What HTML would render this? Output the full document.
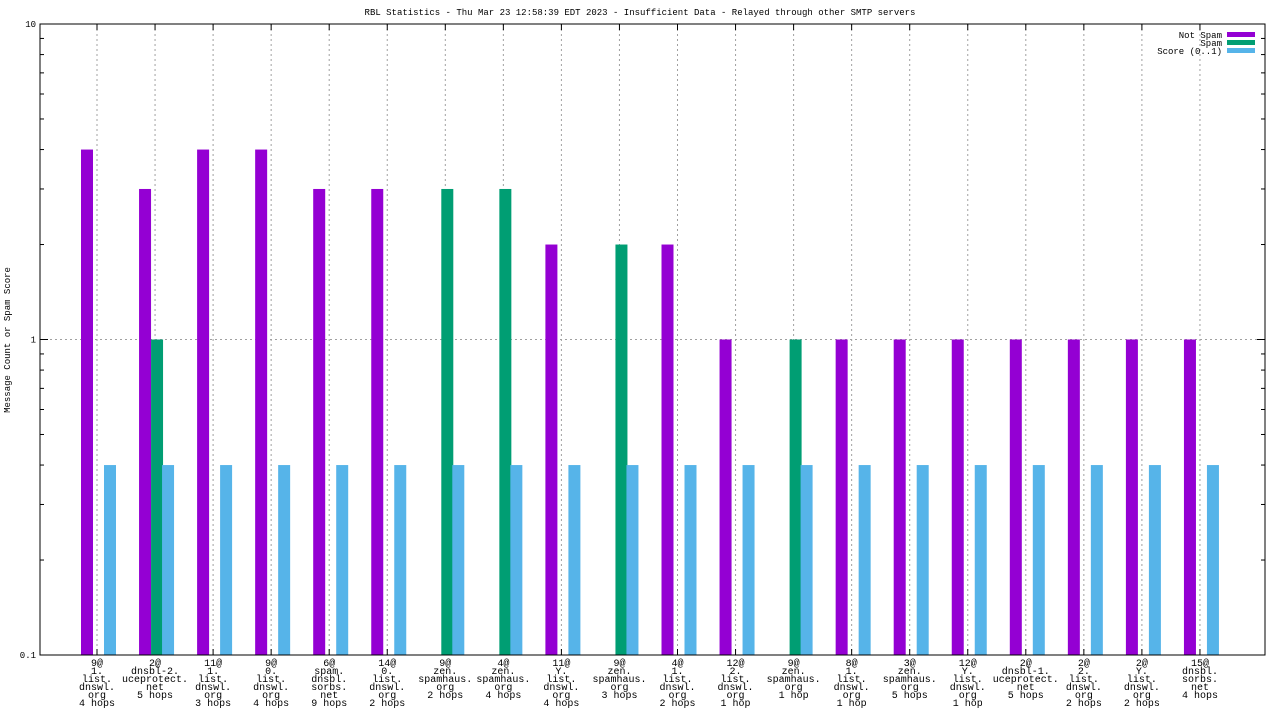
<!DOCTYPE html>
<html><head><meta charset="utf-8"><style>
html,body{margin:0;padding:0;background:#fff;}
svg{display:block;font-family:"Liberation Mono",monospace;font-size:10px;}
</style></head><body>
<svg id="chart" width="1280" height="720"></svg>
<script>
const categories=[
["9@","1.","list.","dnswl.","org","4 hops"],["2@","dnsbl-2.","uceprotect.","net","5 hops"],
["11@","1.","list.","dnswl.","org","3 hops"],["9@","0.","list.","dnswl.","org","4 hops"],
["6@","spam.","dnsbl.","sorbs.","net","9 hops"],["14@","0.","list.","dnswl.","org","2 hops"],
["9@","zen.","spamhaus.","org","2 hops"],["4@","zen.","spamhaus.","org","4 hops"],
["11@","Y.","list.","dnswl.","org","4 hops"],["9@","zen.","spamhaus.","org","3 hops"],
["4@","1.","list.","dnswl.","org","2 hops"],["12@","2.","list.","dnswl.","org","1 hop"],
["9@","zen.","spamhaus.","org","1 hop"],["8@","1.","list.","dnswl.","org","1 hop"],
["3@","zen.","spamhaus.","org","5 hops"],["12@","Y.","list.","dnswl.","org","1 hop"],
["2@","dnsbl-1.","uceprotect.","net","5 hops"],["2@","2.","list.","dnswl.","org","2 hops"],
["2@","Y.","list.","dnswl.","org","2 hops"],["15@","dnsbl.","sorbs.","net","4 hops"]];
const notSpam=[4,3,4,4,3,3,0,0,2,0,2,1,0,1,1,1,1,1,1,1];
const spam=[0,1,0,0,0,0,3,3,0,2,0,0,1,0,0,0,0,0,0,0];
const score=[0.4,0.4,0.4,0.4,0.4,0.4,0.4,0.4,0.4,0.4,0.4,0.4,0.4,0.4,0.4,0.4,0.4,0.4,0.4,0.4];
const yTicks=[0.1,1,10];
const yTickLabels=["0.1","1","10"];

const svg=document.getElementById('chart');
const NS="http://www.w3.org/2000/svg";
const L=40,R=1265,T=24,B=655;
function y(v){return B-(Math.log10(v)+1)/2*(B-T);}
function x(i){return 97+i*58.05;}
function mk(tag,a,parent){const e=document.createElementNS(NS,tag);for(const k in a)e.setAttribute(k,a[k]);(parent||svg).appendChild(e);return e;}

const title=mk('text',{x:640,y:15,'text-anchor':'middle','font-size':9});


title.textContent="RBL Statistics - Thu Mar 23 12:58:39 EDT 2023 - Insufficient Data - Relayed through other SMTP servers";

const yt=mk('text',{x:10,y:340,'text-anchor':'middle','font-size':9,transform:'rotate(-90 10 340)'});


yt.textContent="Message Count or Spam Score";

categories.forEach((c,i)=>{
  const g=mk('line',{x1:x(i),x2:x(i),y1:T,y2:B,stroke:'#a0a0a0','stroke-dasharray':'2,3','stroke-width':1});
  
  
  mk('line',{x1:x(i),x2:x(i),y1:B,y2:B-6,stroke:'#000'});
  mk('line',{x1:x(i),x2:x(i),y1:T,y2:T+6,stroke:'#000'});
});
const hg=mk('line',{x1:L,x2:R,y1:y(1),y2:y(1),stroke:'#a0a0a0','stroke-dasharray':'2,3'});


for(let d=-1;d<1;d++){for(let m=2;m<=9;m++){const v=m*Math.pow(10,d);
  mk('line',{x1:L,x2:L+4,y1:y(v),y2:y(v),stroke:'#000'});
  mk('line',{x1:R,x2:R-4,y1:y(v),y2:y(v),stroke:'#000'});}}
yTicks.forEach((v,i)=>{
  mk('line',{x1:L,x2:L+8,y1:y(v),y2:y(v),stroke:'#000'});
  mk('line',{x1:R,x2:R-8,y1:y(v),y2:y(v),stroke:'#000'});
  const t=mk('text',{x:L-4,y:y(v)+3,'text-anchor':'end','font-size':9});
  
  
  t.textContent=yTickLabels[i];
});

function bars(arr,off,color,name){
  arr.forEach((v,i)=>{ if(v<=0)return;
    const r=mk('rect',{x:x(i)+off,y:y(v),width:12,height:B-y(v),fill:color});
    
    
  });
}
bars(notSpam,-16,'#9400d3','bar-not-spam');
bars(spam,-4,'#009e73','bar-spam');
bars(score,7,'#56b4e9','bar-score');

categories.forEach((c,i)=>{
  const t=mk('text',{x:x(i),'text-anchor':'middle'});
  
  
  c.forEach((s,j)=>{const ts=mk('tspan',{x:x(i),y:666+j*8},t);ts.textContent=s;});
});

const frame=mk('rect',{x:L,y:T,width:R-L,height:B-T,fill:'none',stroke:'#000'});



const leg=[["Not Spam",'#9400d3'],["Spam",'#009e73'],["Score (0..1)",'#56b4e9']];
leg.forEach((l,i)=>{
  const t=mk('text',{x:1222,y:38+i*8,'text-anchor':'end','font-size':9});
  
  
  t.textContent=l[0];
  mk('rect',{x:1227,y:32+i*8,width:28,height:5,fill:l[1]});
});
</script>
</body></html>
